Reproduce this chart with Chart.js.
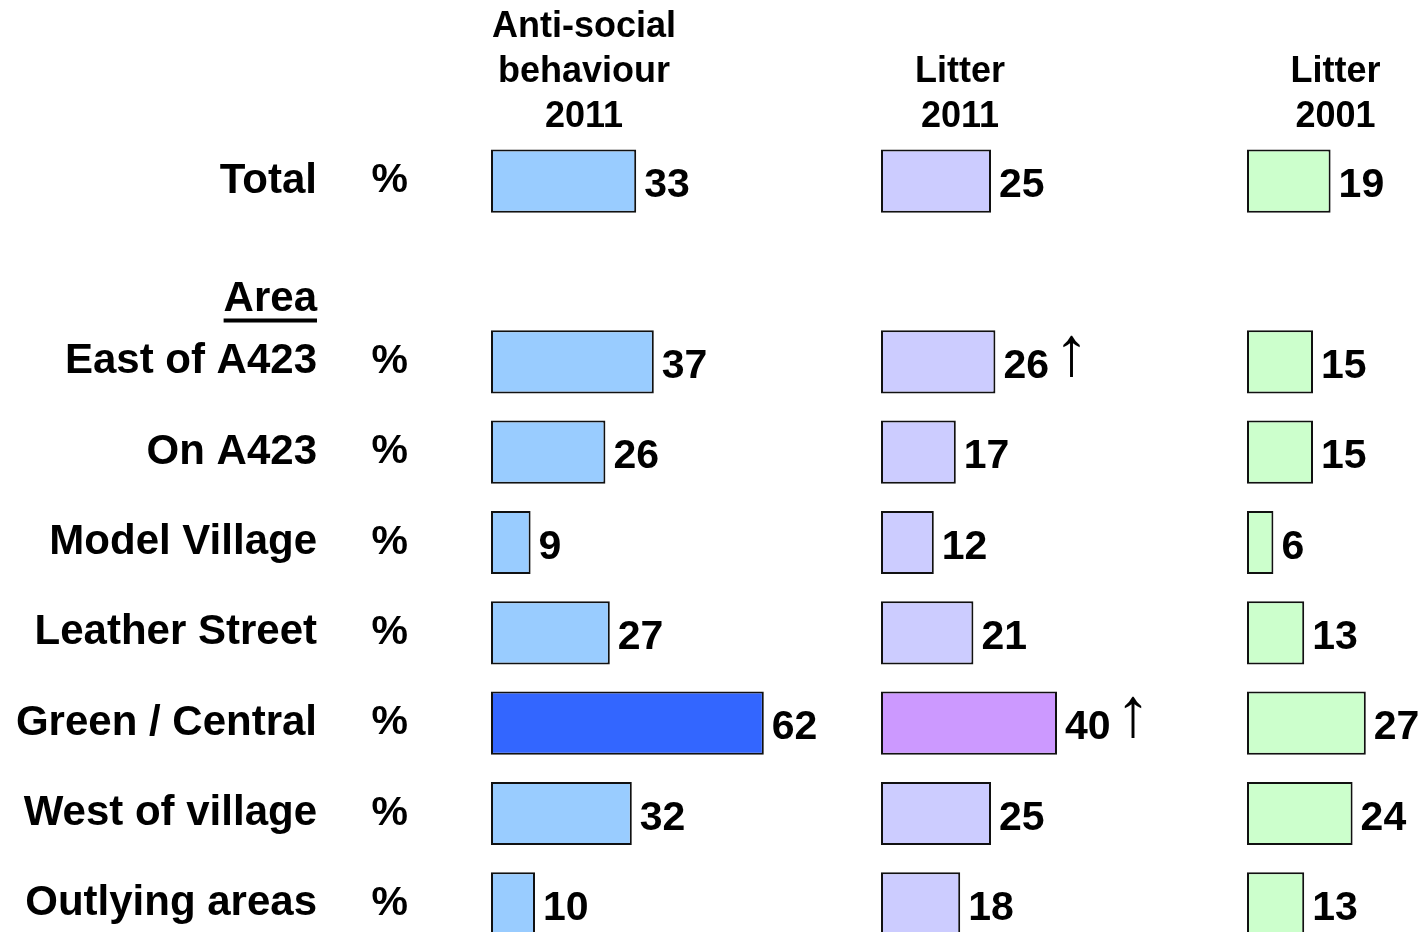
<!DOCTYPE html>
<html><head><meta charset="utf-8">
<script src="https://cdn.jsdelivr.net/npm/chart.js@4.4.0/dist/chart.umd.min.js"></script>
<style>
html,body{margin:0;padding:0;background:#fff;overflow:hidden;}
#wrap{position:relative;width:1424px;height:949px;}
</style></head><body>
<div id="wrap"><canvas id="c" width="1424" height="949"></canvas></div>
<script>
// ---- data ----
const rowLabels = ["Total", "", "East of A423", "On A423", "Model Village", "Leather Street", "Green / Central", "West of village", "Outlying areas"];
const unitLabels = ["%", "", "%", "%", "%", "%", "%", "%", "%"];
const sectionLabel = "Area";
const sectionRow = 1;
const headerASB = ["Anti-social", "behaviour", "2011"];
const headerLitter2011 = ["Litter", "2011"];
const headerLitter2001 = ["Litter", "2001"];
const asb2011 = [33, null, 37, 26, 9, 27, 62, 32, 10];
const litter2011 = [25, null, 26, 17, 12, 21, 40, 25, 18];
const litter2001 = [19, null, 15, 15, 6, 13, 27, 24, 13];
const litter2011Flags = ["", "", "\u2191", "", "", "", "\u2191", "", ""];
const highlightRow = "Green / Central";

// ---- styling / layout ----
const FONT = "'Liberation Sans', Arial, sans-serif";
const PX_PER_UNIT = 4.4;
const W = {x1: 186, g1: 204, x2: 158, g2: 208, x3: 177};

function barAxis(title, weight, w, padTop) {
  return {
    type: 'linear', position: 'top', stack: 'cols', stackWeight: w, weight: weight,
    min: 0, max: w / PX_PER_UNIT, display: true,
    grid: {display: false, drawTicks: false}, border: {display: false}, ticks: {display: false},
    title: {display: true, text: title, color: '#000', align: 'center',
      font: {family: FONT, size: 36, weight: 'bold', lineHeight: 1.25},
      padding: {top: padTop, bottom: -4}}
  };
}
function gapAxis(weight, w) {
  return {type: 'linear', position: 'top', stack: 'cols', stackWeight: w, weight: weight,
    min: 0, max: 1, display: false};
}
function colorFor(normal, hi) {
  return (c) => rowLabels[c.dataIndex] === highlightRow ? hi : normal;
}
const barCommon = {borderColor: '#111', borderWidth: 2, borderSkipped: false, grouped: false,
  categoryPercentage: 0.7, barPercentage: 1, yAxisID: 'y', clip: false};

const valueLabels = {
  id: 'valueLabels',
  afterDatasetsDraw(chart) {
    const ctx = chart.ctx;
    ctx.save();
    chart.data.datasets.forEach((ds, i) => {
      const meta = chart.getDatasetMeta(i);
      meta.data.forEach((el, j) => {
        const v = ds.data[j];
        if (v == null) return;
        const x = el.x + 8, base = el.y + 16;
        ctx.font = 'bold 41px ' + FONT;
        ctx.fillStyle = '#000'; ctx.textAlign = 'left'; ctx.textBaseline = 'alphabetic';
        const t = String(v);
        ctx.fillText(t, x, base);
        const f = ds.flags && ds.flags[j];
        if (f) {
          const w = ctx.measureText(t).width;
          ctx.font = 'normal 70px ' + FONT;
          ctx.fillText(f, x + w + 5, base - 3);
        }
      });
    });
    ctx.restore();
  }
};
const sectionPlugin = {
  id: 'section',
  afterDraw(chart) {
    const ys = chart.scales.y;
    const ctx = chart.ctx;
    const y = ys.getPixelForValue(sectionRow) + 28;
    const xr = ys.right - ys.options.grid.tickLength;
    ctx.save();
    ctx.font = 'bold 42px ' + FONT;
    ctx.fillStyle = '#000'; ctx.textAlign = 'right'; ctx.textBaseline = 'middle';
    ctx.fillText(sectionLabel, xr, y);
    const w = ctx.measureText(sectionLabel).width;
    ctx.fillRect(xr - w, y + 19, w, 4);
    ctx.restore();
  }
};
function noPad(s, width) {
  s.width = width;
  s.paddingTop = 0; s.paddingBottom = 0;
}

new Chart(document.getElementById('c'), {
  type: 'bar',
  data: {
    labels: rowLabels,
    datasets: [
      Object.assign({label: 'Anti-social behaviour 2011', data: asb2011, xAxisID: 'x1',
        backgroundColor: colorFor('#99CCFF', '#3366FF')}, barCommon),
      Object.assign({label: 'Litter 2011', data: litter2011, flags: litter2011Flags, xAxisID: 'x2',
        backgroundColor: colorFor('#CCCCFF', '#CC99FF')}, barCommon),
      Object.assign({label: 'Litter 2001', data: litter2001, xAxisID: 'x3',
        backgroundColor: colorFor('#CCFFCC', '#CCFFCC')}, barCommon)
    ]
  },
  options: {
    indexAxis: 'y',
    responsive: false,
    animation: false,
    devicePixelRatio: 1,
    layout: {padding: 0, autoPadding: false},
    plugins: {legend: {display: false}, tooltip: {enabled: false}, title: {display: false}},
    scales: {
      x1: barAxis(headerASB, 5, W.x1, 5),
      g1: gapAxis(4, W.g1),
      x2: barAxis(headerLitter2011, 3, W.x2, 50),
      g2: gapAxis(2, W.g2),
      x3: barAxis(headerLitter2001, 1, W.x3, 50),
      y: {
        type: 'category', position: 'left', weight: 2, offset: true,
        grid: {display: false, drawTicks: true, tickLength: 54, color: 'rgba(0,0,0,0)', offset: true},
        border: {display: false},
        ticks: {padding: 0, color: '#000', autoSkip: false, font: {family: FONT, size: 42, weight: 'bold'}},
        afterFit(s) { noPad(s, 371); }
      },
      yp: {
        type: 'category', position: 'left', weight: 1, offset: true, labels: unitLabels,
        grid: {display: false, drawTicks: true, tickLength: 83, color: 'rgba(0,0,0,0)', offset: true},
        border: {display: false},
        ticks: {padding: 0, color: '#000', autoSkip: false, font: {family: FONT, size: 41, weight: 'bold'}},
        afterFit(s) { noPad(s, 120); }
      }
    }
  },
  plugins: [valueLabels, sectionPlugin]
});
</script>
</body></html>
